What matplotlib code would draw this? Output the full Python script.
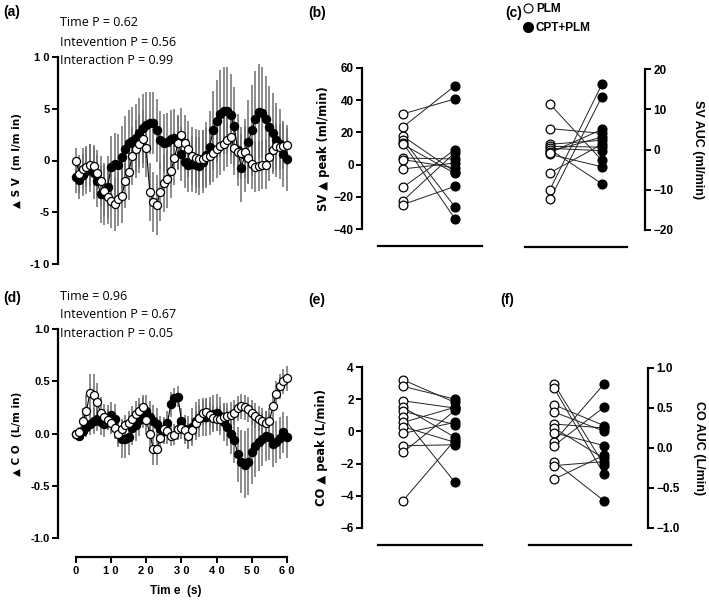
import matplotlib
matplotlib.use("Agg")
import matplotlib.pyplot as plt
from matplotlib.lines import Line2D

plt.rcParams["font.family"] = ["Liberation Sans", "DejaVu Sans"]

W, H = 709, 601

time_s = list(range(61))

# panel (a): delta SV (ml/min), mean and SEM
sv_plm = [0, -1.3, -0.8, -0.6, -0.45, -0.5, -1.2, -2.0, -2.9, -3.5,
          -3.9, -4.2, -3.7, -3.4, -2.0, -1.1, 0.4, 1.1, 1.6, 2.1,
          1.2, -3.0, -4.0, -4.3, -3.0, -2.2, -1.8, -1.0, 0.2, 1.7,
          2.5, 1.7, 1.1, 0.4, 0.2, 0.1, 0.15, 0.3, 0.45, 0.7,
          1.1, 1.4, 1.6, 2.0, 2.3, 1.2, 0.8, 0.7, 0.85, 0.25,
          -0.3, -0.6, -0.5, -0.4, -0.4, 0.3, 1.0, 1.4, 1.3, 1.4, 1.45]
sv_cpt = [-1.6, -1.9, -1.4, -1.0, -0.7, -1.2, -2.0, -3.2, -3.2, -2.6,
          -0.6, -0.3, -0.4, 0.3, 1.1, 1.7, 1.9, 2.2, 2.7, 3.1,
          3.4, 3.6, 3.6, 2.9, 2.0, 1.7, 1.8, 2.1, 2.2, 1.8,
          0.6, -0.1, -0.4, -0.3, -0.4, -0.5, -0.1, 0.5, 1.3, 2.9,
          3.8, 4.5, 4.8, 4.8, 4.4, 3.3, 1.0, -0.7, 0.5, 1.8,
          2.9, 4.0, 4.7, 4.6, 4.0, 3.2, 2.7, 2.0, 1.6, 0.6, 0.1]
sv_plm_err = [1.2, 1.8, 2.0, 2.0, 2.0, 2.0, 2.2, 2.4, 2.5, 2.6,
              2.6, 2.6, 2.6, 2.6, 2.6, 2.7, 2.8, 2.8, 2.8, 2.8,
              2.8, 2.8, 2.9, 2.9, 2.8, 2.8, 2.8, 2.6, 2.6, 2.6,
              2.6, 2.7, 2.7, 2.8, 2.8, 2.8, 2.8, 2.8, 2.8, 2.8,
              2.8, 2.8, 2.6, 2.6, 2.6, 2.6, 2.5, 2.5, 2.5, 2.5,
              2.5, 2.4, 2.4, 2.4, 2.4, 2.3, 2.3, 2.2, 2.2, 2.2, 2.0]
sv_cpt_err = [1.5, 1.8, 2.0, 2.2, 2.3, 2.5, 2.5, 2.8, 3.0, 3.0,
              3.0, 3.0, 3.0, 3.0, 3.2, 3.2, 3.3, 3.3, 3.3, 3.3,
              3.2, 3.0, 3.0, 3.0, 2.8, 2.8, 2.8, 2.8, 2.8, 2.6,
              2.6, 2.6, 2.6, 2.7, 2.7, 2.8, 3.0, 3.2, 3.5, 3.8,
              4.0, 4.2, 4.2, 4.2, 4.0, 3.8, 3.5, 3.3, 3.5, 4.0,
              4.4, 4.6, 4.6, 4.4, 4.2, 4.0, 3.8, 3.6, 3.4, 3.2, 3.0]

# panel (d): delta CO (L/min), mean and SEM
co_plm = [0, 0.01, 0.12, 0.22, 0.39, 0.37, 0.3, 0.2, 0.16, 0.13,
          0.1, 0.05, 0.0, 0.04, 0.08, 0.1, 0.14, 0.19, 0.22, 0.25,
          0.13, 0.0, -0.15, -0.15, -0.04, 0.04, 0.02, -0.02, -0.01, 0.04,
          0.05, 0.03, -0.02, 0.03, 0.1, 0.15, 0.2, 0.21, 0.18, 0.15,
          0.14, 0.14, 0.16, 0.17, 0.18, 0.2, 0.24, 0.26, 0.25, 0.23,
          0.2, 0.17, 0.14, 0.12, 0.1, 0.12, 0.26, 0.38, 0.45, 0.5, 0.53]
co_cpt = [0, -0.02, 0.02, 0.06, 0.09, 0.12, 0.14, 0.11, 0.09, 0.15,
          0.18, 0.14, 0.02, -0.05, -0.05, -0.03, 0.05, 0.08, 0.13, 0.2,
          0.22, 0.16, 0.12, 0.09, 0.04, 0.02, 0.1, 0.28, 0.34, 0.35,
          0.12, 0.04, 0.01, 0.06, 0.12, 0.15, 0.16, 0.16, 0.17, 0.19,
          0.2, 0.17, 0.11, 0.06, 0.0, -0.06, -0.2, -0.27, -0.3, -0.27,
          -0.18, -0.12, -0.08, -0.05, -0.02, -0.03, -0.1, -0.08, -0.04, 0.01, -0.03]
co_plm_err = [0.02, 0.05, 0.12, 0.15, 0.18, 0.2, 0.18, 0.15, 0.12, 0.1,
              0.1, 0.1, 0.1, 0.1, 0.1, 0.12, 0.12, 0.12, 0.12, 0.12,
              0.14, 0.15, 0.15, 0.15, 0.15, 0.12, 0.12, 0.1, 0.1, 0.1,
              0.1, 0.1, 0.12, 0.12, 0.12, 0.12, 0.12, 0.12, 0.12, 0.12,
              0.12, 0.12, 0.12, 0.12, 0.12, 0.12, 0.12, 0.12, 0.12, 0.12,
              0.12, 0.12, 0.12, 0.12, 0.12, 0.12, 0.12, 0.12, 0.12, 0.12, 0.12]
co_cpt_err = [0.03, 0.05, 0.07, 0.09, 0.1, 0.12, 0.12, 0.12, 0.12, 0.12,
              0.12, 0.14, 0.15, 0.18, 0.18, 0.18, 0.16, 0.15, 0.15, 0.15,
              0.15, 0.15, 0.15, 0.15, 0.13, 0.12, 0.12, 0.12, 0.1, 0.1,
              0.12, 0.14, 0.16, 0.18, 0.18, 0.18, 0.18, 0.18, 0.18, 0.18,
              0.18, 0.18, 0.18, 0.18, 0.2, 0.22, 0.26, 0.3, 0.32, 0.32,
              0.3, 0.3, 0.28, 0.26, 0.24, 0.22, 0.22, 0.2, 0.2, 0.2, 0.2]

# paired subject values, PLM -> CPT+PLM
sv_peak_plm = [31.5, 23.4, 17.6, 15.5, 13.4, 12.5, 4.1, 3.1, -2.7, -14.1, -22.4, -24.8]
sv_peak_cpt = [40.8, 49.0, -4.5, -26.3, -33.7, -5.5, 3.5, -2.0, 1.0, 9.3, 7.5, -13.5]
sv_auc_plm = [11.3, 5.2, 1.3, 0.8, 0.3, 0.0, -0.5, -1.2, -5.8, -10.0, -12.4, -0.8]
sv_auc_cpt = [-2.7, 4.0, 2.3, 0.6, -0.3, -8.5, 3.1, -4.3, 1.3, 16.2, 13.1, 5.0]
co_peak_plm = [3.2, 2.8, 1.9, 1.5, 1.25, 0.87, 0.56, 0.29, -0.12, -0.89, -1.3, -4.3]
co_peak_cpt = [1.8, 2.0, 1.45, -0.37, 0.42, -3.17, 1.5, -0.68, 0.56, -0.83, 1.3, -0.53]
co_auc_plm = [0.8, 0.75, 0.54, 0.45, 0.3, 0.25, 0.19, 0.08, 0.03, -0.17, -0.22, -0.39]
co_auc_cpt = [-0.21, -0.33, 0.28, 0.21, 0.25, -0.13, 0.03, 0.8, 0.51, -0.66, -0.17, -0.09]

sv_yticks = [-10, -5, 0, 5, 10]
sv_ylabels = ["-1 0", "-5", "0", "5", "1 0"]
co_yticks = [-1.0, -0.5, 0.0, 0.5, 1.0]
time_ticks = [0, 10, 20, 30, 40, 50, 60]
time_labels = ["0", "1 0", "2 0", "3 0", "4 0", "5 0", "6 0"]

TRI_FONT = ["DejaVu Sans"]


def px_axes(fig, left, top, right, bottom):
    return fig.add_axes([left / W, 1 - bottom / H, (right - left) / W, (bottom - top) / H])


def style_ticks(ax, size=8):
    for lab in ax.get_yticklabels() + ax.get_xticklabels():
        lab.set_fontweight("bold")
        lab.set_fontsize(size)


def time_panel(ax, plm, cpt, plm_err, cpt_err):
    ax.errorbar(time_s, cpt, yerr=cpt_err, fmt="none", ecolor="#6e6e6e", elinewidth=1.1, zorder=1)
    ax.errorbar(time_s, plm, yerr=plm_err, fmt="none", ecolor="#6e6e6e", elinewidth=1.1, zorder=1)
    ax.plot(time_s, cpt, "-o", color="black", lw=0.8, ms=5.8, mfc="black", mec="black", zorder=3)
    ax.plot(time_s, plm, "-o", color="black", lw=0.8, ms=5.8, mfc="white", mec="black", mew=0.9, zorder=4)
    ax.set_xlim(-5.1, 62)
    for s in ["top", "right"]:
        ax.spines[s].set_visible(False)
    ax.spines["left"].set_linewidth(1.6)
    ax.tick_params(axis="y", width=1.4, length=4, pad=2)


def paired_panel(ax, plm, cpt, right=False):
    for a, b in zip(plm, cpt):
        ax.plot([0, 1], [a, b], color="#222222", lw=0.7, zorder=1)
    ax.plot([0] * len(plm), plm, "o", ms=6.3, mfc="white", mec="black", mew=0.9, zorder=3)
    ax.plot([1] * len(cpt), cpt, "o", ms=6.3, mfc="black", mec="black", zorder=3)
    ax.spines["top"].set_visible(False)
    side = "right" if right else "left"
    other = "left" if right else "right"
    ax.spines[other].set_visible(False)
    ax.spines[side].set_linewidth(1.6)
    ax.spines["bottom"].set_linewidth(1.6)
    ax.spines["bottom"].set_position(("outward", 12.5))
    ax.set_xticks([])
    if right:
        ax.yaxis.tick_right()
        ax.yaxis.set_label_position("right")
    ax.tick_params(axis="y", width=1.4, length=4, pad=2)


fig = plt.figure(figsize=(W / 100, H / 100), dpi=100)

# (a)
ax_a = px_axes(fig, 58, 57, 294, 264)
time_panel(ax_a, sv_plm, sv_cpt, sv_plm_err, sv_cpt_err)
ax_a.set_ylim(-10, 10)
ax_a.set_yticks(sv_yticks)
ax_a.set_yticklabels(sv_ylabels)
ax_a.spines["bottom"].set_visible(False)
ax_a.set_xticks([])
ax_a.set_ylabel("▲ S V  (m l/m in)", fontweight="bold", fontsize=7.5, labelpad=6, family=TRI_FONT)
style_ticks(ax_a)

# (d)
ax_d = px_axes(fig, 58, 329, 294, 538)
time_panel(ax_d, co_plm, co_cpt, co_plm_err, co_cpt_err)
ax_d.set_ylim(-1, 1)
ax_d.set_yticks(co_yticks)
ax_d.set_yticklabels(["-1.0", "-0.5", "0.0", "0.5", "1.0"])
ax_d.spines["bottom"].set_position(("outward", 13.5))
ax_d.spines["bottom"].set_bounds(0, 60)
ax_d.spines["bottom"].set_linewidth(1.6)
ax_d.set_xticks(time_ticks)
ax_d.set_xticklabels(time_labels)
ax_d.tick_params(axis="x", width=1.4, length=4, pad=3)
ax_d.set_xlabel("Tim e  (s)", fontweight="bold", fontsize=8.5, labelpad=6)
ax_d.set_ylabel("▲ C O  (L/m in)", fontweight="bold", fontsize=7.5, labelpad=6, family=TRI_FONT)
style_ticks(ax_d)

# (b)
ax_b = px_axes(fig, 362, 68, 482, 229)
paired_panel(ax_b, sv_peak_plm, sv_peak_cpt)
ax_b.set_xlim(-0.79, 1.52)
ax_b.set_ylim(-40, 60)
ax_b.set_yticks([-40, -20, 0, 20, 40, 60])
ax_b.spines["bottom"].set_bounds(-0.48, 1.52)
ax_b.set_ylabel("SV ▲ peak (ml/min)", fontweight="bold", fontsize=8.3, labelpad=3, family=TRI_FONT)
style_ticks(ax_b, 8.5)

# (c)
ax_c = px_axes(fig, 525, 69, 645, 230)
paired_panel(ax_c, sv_auc_plm, sv_auc_cpt, right=True)
ax_c.set_xlim(-0.48, 1.83)
ax_c.set_ylim(-20, 20)
ax_c.set_yticks([-20, -10, 0, 10, 20])
ax_c.spines["bottom"].set_bounds(-0.48, 1.48)
ax_c.set_ylabel("SV AUC (ml/min)", fontweight="bold", fontsize=9, rotation=-90, labelpad=22)
style_ticks(ax_c, 8.5)

# (e)
ax_e = px_axes(fig, 362, 367, 482, 528)
paired_panel(ax_e, co_peak_plm, co_peak_cpt)
ax_e.set_xlim(-0.79, 1.52)
ax_e.set_ylim(-6, 4)
ax_e.set_yticks([-6, -4, -2, 0, 2, 4])
ax_e.spines["bottom"].set_bounds(-0.48, 1.52)
ax_e.set_ylabel("CO ▲ peak (L/min)", fontweight="bold", fontsize=8.3, labelpad=9, family=TRI_FONT)
style_ticks(ax_e, 8.5)

# (f)
ax_f = px_axes(fig, 529, 368, 648, 528)
paired_panel(ax_f, co_auc_plm, co_auc_cpt, right=True)
ax_f.set_xlim(-0.5, 1.88)
ax_f.set_ylim(-1, 1)
ax_f.set_yticks(co_yticks)
ax_f.spines["bottom"].set_bounds(-0.5, 1.54)
ax_f.set_ylabel("CO AUC (L/min)", fontweight="bold", fontsize=9, rotation=-90, labelpad=18)
style_ticks(ax_f, 8.5)

# panel letters
for lab, x, y in [("(a)", 3, 12), ("(b)", 308, 13), ("(c)", 505, 13),
                  ("(d)", 3, 298), ("(e)", 308, 300), ("(f)", 500, 300)]:
    fig.text(x / W, 1 - y / H, lab, fontsize=10, fontweight="bold", va="center")

# statistics text
stats_a = ["Time P = 0.62", "Intevention P = 0.56", "Interaction P = 0.99"]
stats_d = ["Time = 0.96", "Intevention P = 0.67", "Interaction P = 0.05"]
for i, s in enumerate(stats_a):
    fig.text(60 / W, 1 - (23 + 19 * i) / H, s, fontsize=9, family="Open Sans", va="center")
for i, s in enumerate(stats_d):
    fig.text(60 / W, 1 - (296 + 19 * i) / H, s, fontsize=9, family="Open Sans", va="center")

handles = [Line2D([], [], ls="none", marker="o", ms=6.5, mfc="white", mec="black", mew=0.8),
           Line2D([], [], ls="none", marker="o", ms=7, mfc="black", mec="black")]
fig.legend(handles, ["PLM", "CPT+PLM"], loc="upper left", bbox_to_anchor=(510 / W, 1.012),
           frameon=False, handletextpad=0.1, labelspacing=0.55, handlelength=1.2,
           prop={"weight": "bold", "size": 8.5})

fig.savefig("out.png", dpi=100)
